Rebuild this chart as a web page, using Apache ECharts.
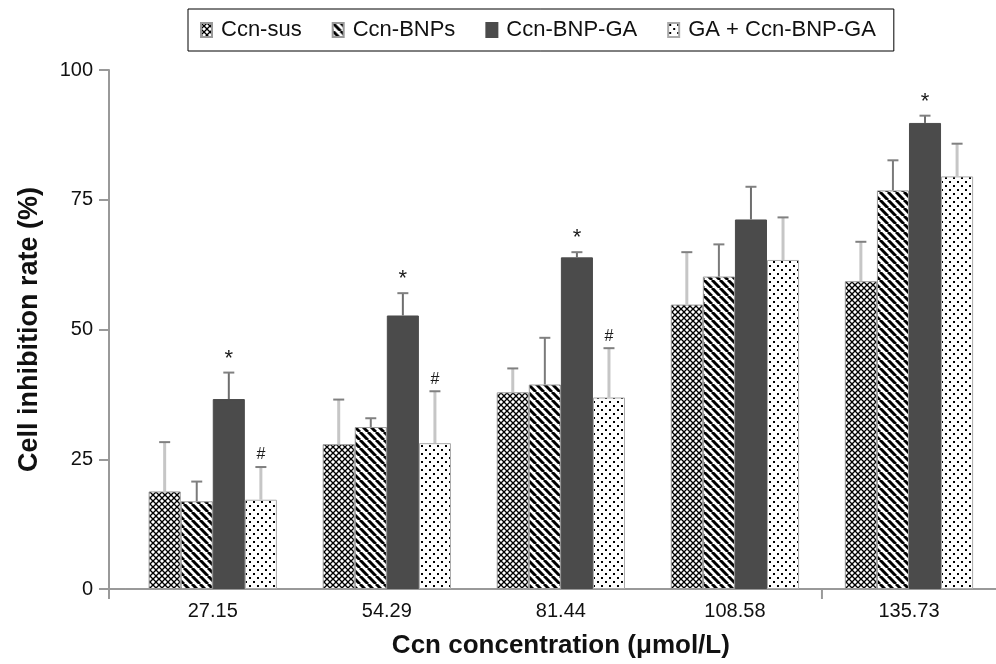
<!DOCTYPE html>
<html><head><meta charset="utf-8">
<script src="https://cdn.jsdelivr.net/npm/echarts@6/dist/echarts.min.js"></script>
<style>html,body{margin:0;padding:0;background:#fff}#c{width:996px;height:664px}</style>
</head><body><div id="c"></div>
<script>
// ---- data ----
const categories = ['27.15', '54.29', '81.44', '108.58', '135.73'];
const seriesNames = ['Ccn-sus', 'Ccn-BNPs', 'Ccn-BNP-GA', 'GA + Ccn-BNP-GA'];
const ccnSus    = [18.8, 27.9, 37.9, 54.8, 59.3];
const ccnSusSD  = [9.5, 8.6, 4.6, 10.1, 7.6];
const ccnBNPs   = [16.9, 31.2, 39.4, 60.2, 76.8];
const ccnBNPsSD = [3.8, 1.7, 9.0, 6.2, 5.8];
const ccnBNPGA  = [36.6, 52.7, 63.9, 71.2, 89.8];
const ccnBNPGASD= [5.1, 4.3, 1.0, 6.3, 1.4];
const gaCcn     = [17.2, 28.1, 36.9, 63.4, 79.5];
const gaCcnSD   = [6.3, 10.0, 9.5, 8.2, 6.3];
const starMarks = ['*', '*', '*', '', '*'];
const hashMarks = ['#', '#', '#', '', ''];
const yTicks = [0, 25, 50, 75, 100];

const means = [ccnSus, ccnBNPs, ccnBNPGA, gaCcn];
const sds = [ccnSusSD, ccnBNPsSD, ccnBNPGASD, gaCcnSD];
const marks = [null, null, starMarks, hashMarks];

// ---- patterns ----
function tile(w, h, draw) {
  const c = document.createElement('canvas');
  c.width = w; c.height = h;
  const g = c.getContext('2d');
  g.fillStyle = '#fff'; g.fillRect(0, 0, w, h);
  draw(g);
  return { image: c, repeat: 'repeat' };
}
const patCheck = tile(6, 6, g => {
  g.strokeStyle = '#000'; g.lineWidth = 1.3;
  for (const o of [-6, 0, 6]) {
    g.beginPath(); g.moveTo(o, 0); g.lineTo(o + 6, 6); g.stroke();
    g.beginPath(); g.moveTo(o + 6, 0); g.lineTo(o, 6); g.stroke();
  }
});
const patStripe = tile(8, 8, g => {
  g.strokeStyle = '#000'; g.lineWidth = 3;
  for (const o of [-8, 0, 8]) {
    g.beginPath(); g.moveTo(o, 0); g.lineTo(o + 8, 8); g.stroke();
  }
});
const patDots = tile(8, 8, g => {
  g.fillStyle = '#000';
  g.fillRect(1, 1, 2, 2);
  g.fillRect(5, 5, 2, 2);
});
const fills = [patCheck, patStripe, '#4b4b4b', patDots];
const borders = ['#999', '#999', '#4b4b4b', '#aaa'];
const errLine = ['#c6c6c6', '#7a7a7a', '#6e6e6e', '#c6c6c6'];
const CAT_GAP = 0.263;
const FONT = "'Liberation Sans', Arial, Helvetica, sans-serif";

const chart = echarts.init(document.getElementById('c'), null, { renderer: 'canvas' });

const series = [];
seriesNames.forEach((name, k) => {
  series.push({
    name, type: 'bar', data: means[k],
    barGap: '0%', barCategoryGap: (CAT_GAP * 100) + '%',
    itemStyle: { color: fills[k], borderColor: borders[k], borderWidth: 1 },
    z: 2
  });
});
seriesNames.forEach((name, k) => {
  series.push({
    type: 'custom', name: name + '-err', z: 3,
    silent: true,
    data: categories.map((c, i) => [i, means[k][i], means[k][i] + sds[k][i], marks[k] ? marks[k][i] : '']),
    renderItem: (params, api) => {
      const i = api.value(0);
      const base = api.coord([i, api.value(1)]);
      const top = api.coord([i, api.value(2)]);
      const catW = api.size([1, 0])[0];
      const barW = catW * (1 - CAT_GAP) / 4;
      const cx = base[0] + (k - 1.5) * barW;
      const mark = api.value(3);
      const children = [
        { type: 'line', shape: { x1: cx, y1: base[1], x2: cx, y2: top[1] },
          style: { stroke: errLine[k], lineWidth: errLine[k] === '#c6c6c6' ? 3 : 2 } },
        { type: 'line', shape: { x1: cx - 5.5, y1: top[1], x2: cx + 5.5, y2: top[1] },
          style: { stroke: '#808080', lineWidth: 2 } }
      ];
      if (mark) {
        const star = mark === '*';
        children.push({
          type: 'text',
          style: {
            text: mark, x: cx, y: top[1] - (star ? 3 : 4),
            textAlign: 'center', textVerticalAlign: 'bottom',
            fontSize: star ? 22 : 16, fontFamily: FONT, fill: '#1a1a1a'
          }
        });
      }
      return { type: 'group', children };
    }
  });
});

const GRID_LEFT = 125.75, GRID_TOP = 70, GRID_BOTTOM = 72.5, AXIS_X = 109;

chart.setOption({
  animation: false,
  backgroundColor: '#fff',
  textStyle: { fontFamily: FONT },
  legend: {
    data: seriesNames,
    left: 188, top: 9,
    padding: [10, 18, 10, 12],
    itemGap: 30,
    itemWidth: 11, itemHeight: 14,
    icon: 'rect',
    borderColor: '#000', borderWidth: 1,
    textStyle: { fontSize: 22, color: '#111', fontFamily: FONT, padding: [0, 0, 0, 4] }
  },
  grid: { left: GRID_LEFT, right: -12.25, top: GRID_TOP, bottom: GRID_BOTTOM, containLabel: false },
  xAxis: {
    type: 'category', data: categories,
    axisLine: { lineStyle: { color: '#999', width: 2 } },
    axisTick: { show: false },
    axisLabel: { fontSize: 20, color: '#111', margin: 12, fontFamily: FONT },
    name: 'Ccn concentration (μmol/L)', nameLocation: 'middle', nameGap: 44,
    nameTextStyle: { fontSize: 26, fontWeight: 'bold', color: '#111', fontFamily: FONT }
  },
  yAxis: {
    type: 'value', min: 0, max: 100, interval: 25,
    offset: GRID_LEFT - AXIS_X,
    axisLine: { show: true, lineStyle: { color: '#999', width: 2 } },
    axisTick: { show: true, length: 10, lineStyle: { color: '#999', width: 2 } },
    splitLine: { show: false },
    axisLabel: { fontSize: 20, color: '#111', margin: 16, fontFamily: FONT,
      formatter: v => yTicks.includes(v) ? String(v) : '' },
    name: 'Cell inhibition rate (%)', nameLocation: 'middle', nameGap: 66,
    nameTextStyle: { fontSize: 27, fontWeight: 'bold', color: '#111', fontFamily: FONT }
  },
  series
});

// axis decorations derived from the chart's own scale
const y0 = chart.convertToPixel({ yAxisIndex: 0 }, 0);
const xA = chart.convertToPixel({ xAxisIndex: 0 }, 3);
const xB = chart.convertToPixel({ xAxisIndex: 0 }, 4);
const gridRect = chart.getModel().getComponent('grid', 0).coordinateSystem.getRect();
const axisX = gridRect.x - (GRID_LEFT - AXIS_X);
const tickX = (xA + xB) / 2;
chart.setOption({
  graphic: [
    { type: 'line', shape: { x1: axisX, y1: y0, x2: gridRect.x, y2: y0 },
      style: { stroke: '#999', lineWidth: 2 }, z: 10 },
    { type: 'line', shape: { x1: axisX, y1: y0, x2: axisX, y2: y0 + 10 },
      style: { stroke: '#999', lineWidth: 2 }, z: 10 },
    { type: 'line', shape: { x1: tickX, y1: y0, x2: tickX, y2: y0 + 10 },
      style: { stroke: '#999', lineWidth: 2 }, z: 10 }
  ]
});
</script>
</body></html>
